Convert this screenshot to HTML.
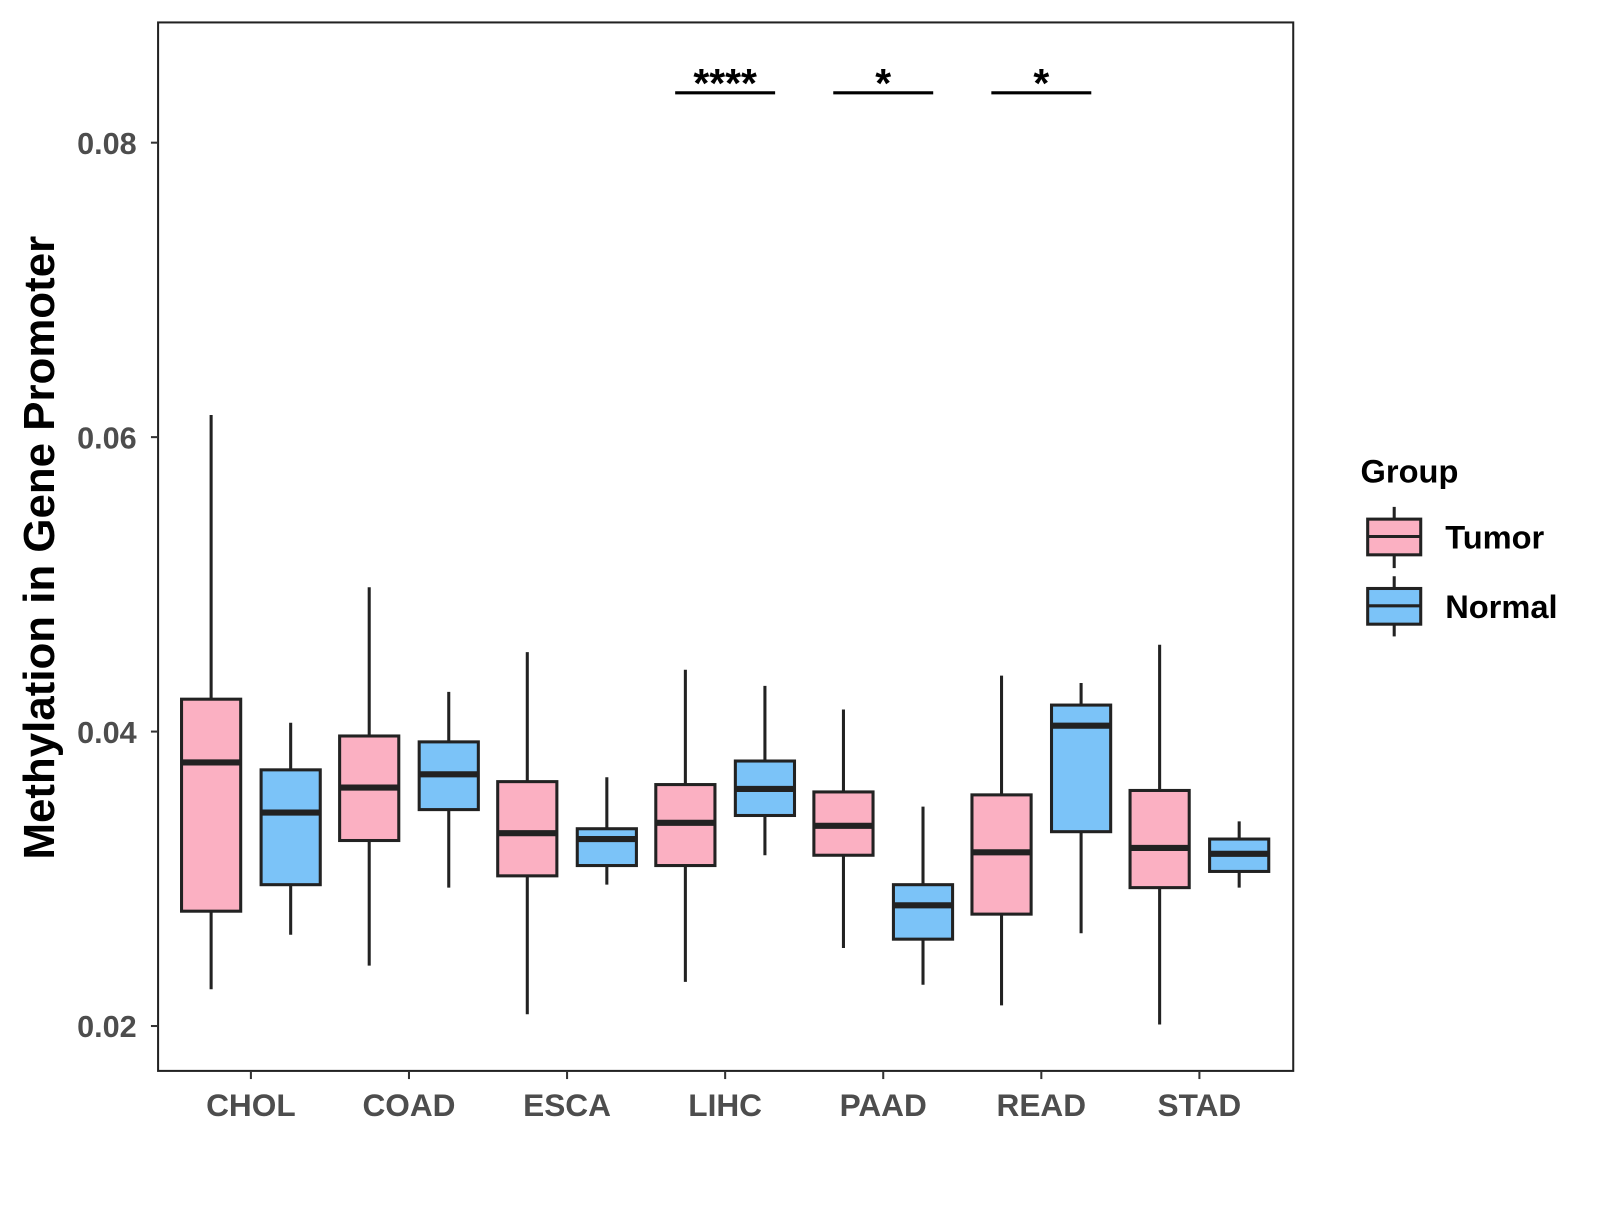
<!DOCTYPE html>
<html><head><meta charset="utf-8"><style>
html,body{margin:0;padding:0;background:#fff;}
svg text{font-family:"Liberation Sans",Arial,sans-serif;font-weight:bold;}
</style></head><body>
<svg id="chart" width="1600" height="1200" viewBox="0 0 1600 1200" xmlns="http://www.w3.org/2000/svg">
<g transform="scale(1.0199)">
<rect x="155" y="22" width="1113" height="1028" fill="#fff" stroke="#222" stroke-width="2"/>
<g id="ticks"></g>
<g id="boxes"></g>
<g id="sig"></g>
<text transform="translate(53,537) rotate(-90)" text-anchor="middle" font-size="43" fill="#000">Methylation in Gene Promoter</text>
<g>
<text x="1334" y="473" font-size="32" fill="#000">Group</text>
<g>
<line x1="1367" y1="497" x2="1367" y2="557" stroke="#222" stroke-width="3"/>
<rect x="1341" y="509" width="52" height="35" fill="#FBB0C2" stroke="#222" stroke-width="3"/>
<line x1="1341" y1="526" x2="1393" y2="526" stroke="#222" stroke-width="3"/>
<text x="1417" y="538" font-size="32" fill="#000">Tumor</text>
</g>
<g>
<line x1="1367" y1="565" x2="1367" y2="624" stroke="#222" stroke-width="3"/>
<rect x="1341" y="577" width="52" height="35" fill="#7BC3F8" stroke="#222" stroke-width="3"/>
<line x1="1341" y1="594" x2="1393" y2="594" stroke="#222" stroke-width="3"/>
<text x="1417" y="606" font-size="32" fill="#000">Normal</text>
</g>
</g>
</g>
</svg>
<script>
const categories = ["CHOL","COAD","ESCA","LIHC","PAAD","READ","STAD"];
// [whiskerLow, Q1, median, Q3, whiskerHigh]
const tumorStats = [
 [0.0225,0.0278,0.0379,0.0422,0.0615],
 [0.0241,0.0326,0.0362,0.0397,0.0498],
 [0.0208,0.0302,0.0331,0.0366,0.0454],
 [0.0230,0.0309,0.0338,0.0364,0.0442],
 [0.0253,0.0316,0.0336,0.0359,0.0415],
 [0.0214,0.0276,0.0318,0.0357,0.0438],
 [0.0201,0.0294,0.0321,0.0360,0.0459]
];
const normalStats = [
 [0.0262,0.0296,0.0345,0.0374,0.0406],
 [0.0294,0.0347,0.0371,0.0393,0.0427],
 [0.0296,0.0309,0.0327,0.0334,0.0369],
 [0.0316,0.0343,0.0361,0.0380,0.0431],
 [0.0228,0.0259,0.0282,0.0296,0.0349],
 [0.0263,0.0332,0.0404,0.0418,0.0433],
 [0.0294,0.0305,0.0317,0.0327,0.0339]
];
const yTicks = [0.02,0.04,0.06,0.08];
const yTickLabels = ["0.02","0.04","0.06","0.08"];
const sigCategories = ["LIHC","PAAD","READ"];
const sigLabels = ["****","*","*"];

const NS="http://www.w3.org/2000/svg";
function y(v){return 1006-(v-0.02)*14435;}
function x(i){return 246+i*155;}
function mk(tag,attrs,parent){const e=document.createElementNS(NS,tag);for(const k in attrs)e.setAttribute(k,attrs[k]);parent.appendChild(e);return e;}
const ticks=document.getElementById('ticks');
yTicks.forEach((t,i)=>{
 const l=mk('line',{x1:148,x2:155,y1:y(t),y2:y(t),stroke:'#333','stroke-width':2},ticks);
 
 
 const tx=mk('text',{x:134,y:y(t)+11,'text-anchor':'end','font-size':30,fill:'#4d4d4d'},ticks);
 tx.textContent=yTickLabels[i];
 
 
});
categories.forEach((c,i)=>{
 const l=mk('line',{x1:x(i),x2:x(i),y1:1050,y2:1058,stroke:'#333','stroke-width':2},ticks);
 
 
 const tx=mk('text',{x:x(i),y:1094,'text-anchor':'middle','font-size':31,fill:'#4d4d4d'},ticks);
 tx.textContent=c;
 
 
});
const boxes=document.getElementById('boxes');
function drawBox(s,cx,fill,name){
 const g=mk('g',{},boxes);
 
 
 mk('line',{x1:cx,x2:cx,y1:y(s[0]),y2:y(s[4]),stroke:'#222','stroke-width':3},g);
 mk('rect',{x:cx-29,y:y(s[3]),width:58,height:y(s[1])-y(s[3]),fill:fill,stroke:'#222','stroke-width':3},g);
 mk('line',{x1:cx-29,x2:cx+29,y1:y(s[2]),y2:y(s[2]),stroke:'#222','stroke-width':6},g);
}
categories.forEach((c,i)=>{
 drawBox(tumorStats[i],x(i)-39,'#FBB0C2','box-tumor-'+c.toLowerCase());
 drawBox(normalStats[i],x(i)+39,'#7BC3F8','box-normal-'+c.toLowerCase());
});
const sig=document.getElementById('sig');
sigCategories.forEach((c,k)=>{
 const i=categories.indexOf(c);
 const l=mk('line',{x1:x(i)-49,x2:x(i)+49,y1:91,y2:91,stroke:'#000','stroke-width':3},sig);
 
 
 const t=mk('text',{x:x(i),y:95,'text-anchor':'middle','font-size':40,fill:'#000'},sig);
 t.textContent=sigLabels[k];
 
 
});
</script>
</body></html>
